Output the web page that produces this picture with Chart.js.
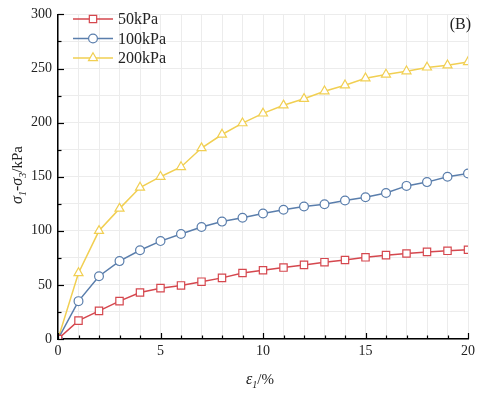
<!DOCTYPE html>
<html>
<head>
<meta charset="utf-8">
<script src="https://cdn.jsdelivr.net/npm/chart.js@4/dist/chart.umd.min.js"></script>
<style>
  html, body { margin: 0; padding: 0; background: #fff; }
  #wrap { width: 480px; height: 393px; }
</style>
</head>
<body>
<div id="wrap"><canvas id="myChart"></canvas></div>
<script>
let strain = [0, 1, 2, 3, 4, 5, 6, 7, 8, 9, 10, 11, 12, 13, 14, 15, 16, 17, 18, 19, 20];
let s50 = [0, 17, 26, 35, 43, 47, 49.5, 53, 56.5, 61, 63.5, 66, 68.5, 71, 73, 75.5, 77.5, 79, 80.5, 81.5, 82.5];
let s100 = [0, 35, 58, 72, 82, 90.5, 97, 103.5, 108.5, 112, 116, 119.5, 122.5, 124.5, 128, 131, 135, 141.5, 145, 150, 153];
let s200 = [0, 61, 100, 120.5, 140, 150, 159, 176.5, 189, 199.5, 208.5, 216, 222, 229, 234.5, 241, 244.5, 247.5, 251, 253, 256];
let names = ['50kPa', '100kPa', '200kPa'];
let colors = ['#d5474e', '#5a7eac', '#f1cf52'];
let shapes = ['rect', 'circle', 'triangle'];
let sizes = [5.2, 4.4, 5.2];
let yTicks = [0, 50, 100, 150, 200, 250, 300];
let xTicks = [0, 5, 10, 15, 20];

const serif = '"Liberation Serif", "Times New Roman", serif';

function pts(arr) {
    return arr.map((v, i) => ({ x: strain[i], y: v }));
}

let series = [s50, s100, s200];
let datasets = series.map((s, i) => ({
    label: names[i],
    data: pts(s),
    borderColor: colors[i],
    backgroundColor: '#fff',
    borderWidth: 1.5,
    pointStyle: shapes[i],
    pointRadius: sizes[i],
    pointBorderWidth: 1.2,
    pointBorderColor: colors[i],
    pointBackgroundColor: '#fff',
    tension: 0
}));

// inward ticks, axis titles with subscripts, legend, panel label
const extras = {
    id: 'extras',
    afterDraw(chart) {
        const ctx = chart.ctx;
        const xs = chart.scales.x, ys = chart.scales.y;
        const a = chart.chartArea;
        ctx.save();
        ctx.strokeStyle = '#000';
        ctx.lineWidth = 1.2;
        for (let v = 0; v <= 20; v++) {
            const px = Math.round(xs.getPixelForValue(v)) + 0.5;
            const len = v % 5 === 0 ? 6 : 3.5;
            ctx.beginPath();
            ctx.moveTo(px, a.bottom);
            ctx.lineTo(px, a.bottom - len);
            ctx.stroke();
        }
        for (let v = 0; v <= 300; v += 25) {
            const py = Math.round(ys.getPixelForValue(v)) + 0.5;
            const len = v % 50 === 0 ? 6 : 3.5;
            ctx.beginPath();
            ctx.moveTo(a.left, py);
            ctx.lineTo(a.left + len, py);
            ctx.stroke();
        }

        ctx.fillStyle = '#222';
        ctx.textBaseline = 'alphabetic';
        // x title: ε1/%
        let parts = [
            ['italic 16px ' + serif, 'ε', 0],
            ['italic 10px ' + serif, '1', 4],
            ['15px ' + serif, '/%', 0]
        ];
        drawParts(ctx, parts, 246, 384);

        // y title: σ1-σ3/kPa (rotated)
        ctx.save();
        ctx.translate(22, 175);
        ctx.rotate(-Math.PI / 2);
        parts = [
            ['italic 16px ' + serif, 'σ', 0],
            ['italic 10px ' + serif, '1', 4],
            ['16px ' + serif, '-', 0],
            ['italic 16px ' + serif, 'σ', 0],
            ['italic 10px ' + serif, '3', 4],
            ['15px ' + serif, '/kPa', 0]
        ];
        let w = 0;
        parts.forEach(p => { ctx.font = p[0]; w += ctx.measureText(p[1]).width; });
        drawParts(ctx, parts, -w / 2, 0);
        ctx.restore();

        // panel label
        ctx.font = '16px ' + serif;
        ctx.textAlign = 'right';
        ctx.fillText('(B)', 471, 29);
        ctx.textAlign = 'left';

        // legend
        const rowY = [19, 38.5, 58];
        chart.data.datasets.forEach((ds, i) => {
            const y = rowY[i];
            ctx.strokeStyle = ds.borderColor;
            ctx.lineWidth = 1.5;
            ctx.beginPath();
            ctx.moveTo(73, y);
            ctx.lineTo(113, y);
            ctx.stroke();
            ctx.fillStyle = '#fff';
            ctx.lineWidth = 1.2;
            Chart.helpers.drawPoint(ctx, {
                pointStyle: ds.pointStyle, radius: ds.pointRadius, rotation: 0, borderWidth: 1.2
            }, 93, y);
            ctx.fillStyle = '#222';
            ctx.font = '16px ' + serif;
            ctx.textBaseline = 'middle';
            ctx.fillText(ds.label, 118, y + 1);
        });
        ctx.restore();
    }
};

function drawParts(ctx, parts, x, y) {
    parts.forEach(p => {
        ctx.font = p[0];
        ctx.fillText(p[1], x, y + p[2]);
        x += ctx.measureText(p[1]).width;
    });
}

let myChart = document.getElementById('myChart').getContext('2d');
let chart = new Chart(myChart, {
    type: 'line',
    data: { datasets: datasets },
    plugins: [extras],
    options: {
        responsive: true,
        maintainAspectRatio: false,
        animation: false,
        layout: { padding: { top: 8, right: 12, left: 0, bottom: 0 } },
        plugins: {
            legend: { display: false },
            tooltip: { enabled: false }
        },
        scales: {
            x: {
                type: 'linear',
                min: 0,
                max: 20,
                afterFit(s) { s.height = 54; },
                afterBuildTicks(s) {
                    s.ticks = strain.map(v => ({ value: v }));
                },
                ticks: {
                    autoSkip: false,
                    maxRotation: 0,
                    padding: 4,
                    color: '#222',
                    font: { family: serif, size: 14 },
                    callback: v => xTicks.includes(v) ? String(v) : ''
                },
                grid: { color: '#ececec', lineWidth: 1, drawTicks: false },
                border: { color: '#000', width: 1.5 }
            },
            y: {
                min: 0,
                max: 300,
                afterFit(s) { s.width = 58; },
                afterBuildTicks(s) {
                    let t = [];
                    for (let v = 0; v <= 300; v += 25) t.push({ value: v });
                    s.ticks = t;
                },
                ticks: {
                    autoSkip: false,
                    padding: 6,
                    color: '#222',
                    font: { family: serif, size: 14 },
                    callback: v => yTicks.includes(v) ? String(v) : ''
                },
                grid: { color: '#ececec', lineWidth: 1, drawTicks: false },
                border: { color: '#000', width: 1.5 }
            }
        }
    }
});
</script>
</body>
</html>
